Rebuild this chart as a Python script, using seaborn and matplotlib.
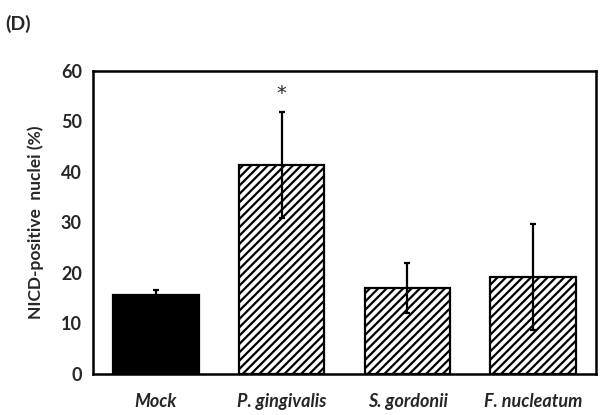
import numpy as np
import pandas as pd
import seaborn as sns
import matplotlib.pyplot as plt

# Data
groups = ['Mock', 'P. gingivalis', 'S. gordonii', 'F. nucleatum']
values = [15.6, 41.4, 17.0, 19.2]
errors = [1.0, 10.5, 5.0, 10.5]

sns.set_style('white')
plt.rcParams['font.family'] = ['Lato', 'DejaVu Sans']
plt.rcParams['font.weight'] = 'bold'
plt.rcParams['hatch.linewidth'] = 1.6
plt.rcParams['hatch.color'] = 'black'

df = pd.DataFrame({'group': groups, 'value': values})

fig = plt.figure(figsize=(6.04, 4.15), dpi=100)
ax = fig.add_axes([0.154, 0.099, 0.833, 0.73])

sns.barplot(data=df, x='group', y='value', ax=ax, width=0.68,
            color='white', edgecolor='black', linewidth=1.6, errorbar=None)
for i, bar in enumerate(ax.patches):
    if i == 0:
        bar.set_facecolor('black')
    else:
        bar.set_hatch('////')

ax.errorbar(np.arange(len(groups)), values, yerr=errors, fmt='none',
            ecolor='black', elinewidth=1.6, capsize=2.5, capthick=1.6, zorder=5)

# significance mark
ax.text(1, values[1] + errors[1] + 3.6, '*', ha='center', va='center',
        fontsize=14, fontweight='normal', family='DejaVu Sans')

ax.set_xlim(-0.5, 3.5)
ax.set_ylim(0, 60)
ax.set_yticks(range(0, 61, 10))
ax.tick_params(axis='both', length=0, pad=8)
for lab in ax.get_yticklabels():
    lab.set_fontsize(13)
    lab.set_fontweight('bold')
ax.set_xticks(range(len(groups)))
ax.set_xticklabels(groups, fontsize=13, fontweight='bold', style='italic')
ax.tick_params(axis='x', pad=14)
ax.set_xlabel('')
ax.set_ylabel('NICD-positive  nuclei (%)', fontsize=12.5, fontweight='bold',
              labelpad=12)
for sp in ax.spines.values():
    sp.set_visible(True)
    sp.set_color('black')
    sp.set_linewidth(1.8)

fig.text(0.008, 0.965, '(D)', fontsize=14, fontweight='bold', va='top')

fig.savefig('out.png', dpi=100)
